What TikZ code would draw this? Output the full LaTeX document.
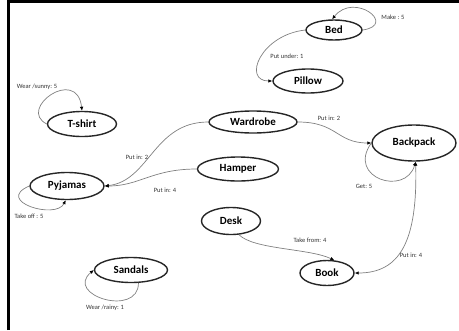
\documentclass[tikz,border=0pt]{standalone}
\usepackage{fontspec}
\setmainfont{Carlito}
\usetikzlibrary{arrows.meta}
\usetikzlibrary{shapes.geometric}
\tikzset{
  item/.style= {
    ellipse,
    draw = black!85,
    line width = 1.4bp,
    inner sep = 0pt,
    font = \fontsize{11}{13}\selectfont\bfseries
  },
  link/.style= {
    draw = black!50,
    line width = 0.7bp,
    -{Latex[length=4bp,width=3.6bp,color=black]}
  },
  twolink/.style= {
    link,
    {Latex[length=4bp,width=3.6bp,color=black]}-{Latex[length=4bp,width=3.6bp,color=black]}
  },
  lbl/.style= {
    font = \fontsize{6.5}{8}\selectfont,
    text = black!80,
    inner sep = 0pt
  }
}
\begin{document}
\begin{tikzpicture}[x=1bp,y=1bp]
  \useasboundingbox (0,0) rectangle (459,330);
  \draw[line width=2.5bp] (8.3,0) -- (8.3,328.7) -- (459,328.7);

  % things
  \node[item,minimum width=56bp,minimum height=20bp] (bed) at (334,300) {Bed};
  \node[item,minimum width=70bp,minimum height=24bp] (pillow) at (308,249) {Pillow};
  \node[item,minimum width=88bp,minimum height=22bp] (wardrobe) at (253,208) {Wardrobe};
  \node[item,minimum width=81bp,minimum height=24bp] (hamper) at (238,161) {Hamper};
  \node[item,minimum width=84bp,minimum height=36bp] (backpack) at (414,187) {Backpack};
  \node[item,minimum width=69bp,minimum height=25bp] (tshirt) at (82,206) {T-shirt};
  \node[item,minimum width=74bp,minimum height=27bp] (pyjamas) at (67,144) {Pyjamas};
  \node[item,minimum width=59bp,minimum height=27bp] (desk) at (231,109) {Desk};
  \node[item,minimum width=73bp,minimum height=25bp] (sandals) at (131,60) {Sandals};
  \node[item,minimum width=54bp,minimum height=25bp] (book) at (327,57) {Book};

  % bed and pillow
  \draw[link] (bed.east) .. controls +(35,5) and +(22,28) .. (bed.100);
  \node[lbl] (makelab) at (393,313) {Make : 5};
  \draw[link] (bed.west) .. controls +(-45,-5) and +(-30,0) .. (pillow.west);
  \node[lbl] (underlab) at (287,274) {Put under: 1};

  % clothes
  \draw[link] (tshirt.west) .. controls +(-30,15) and +(-5,45) .. (tshirt.north);
  \node[lbl] (sunnylab) at (37,243) {Wear /sunny: 5};
  \draw[link] (pyjamas.west) .. controls +(-35,-15) and +(-10,-20) .. (pyjamas.-95);
  \node[lbl] (offlab) at (29,114) {Take off : 5};
  \draw[link] (wardrobe.west) .. controls +(-55,0) and +(45,5) .. (pyjamas.east);
  \node[lbl] (inlabA) at (137,173) {Put in: 2};
  \draw[link] (hamper.west) .. controls +(-45,0) and +(35,0) .. (pyjamas.east);
  \node[lbl] (inlabB) at (165,140) {Put in: 4};
  \draw[link] (sandals.-60) .. controls +(0,-35) and +(-30,-25) .. (sandals.west);
  \node[lbl] (rainylab) at (105,22) {Wear /rainy: 1};

  % backpack and book
  \draw[link] (wardrobe.east) .. controls +(40,0) and +(-35,0) .. (backpack.west);
  \node[lbl] (inlabC) at (329,212) {Put in: 2};
  \draw[link] (backpack.west) .. controls +(-25,-35) and +(-10,-35) .. (backpack.-85);
  \node[lbl] (getlab) at (364,144) {Get: 5};
  \draw[twolink] (book.east) .. controls +(45,0) and +(2,-80) .. (backpack.-85);
  \node[lbl] (inlabD) at (411,75) {Put in: 4};
  \draw[link] (desk.-60) .. controls +(15,-15) and +(-25,12) .. (book.60);
  \node[lbl] (takelab) at (310,90) {Take from: 4};

\end{tikzpicture}
\end{document}
